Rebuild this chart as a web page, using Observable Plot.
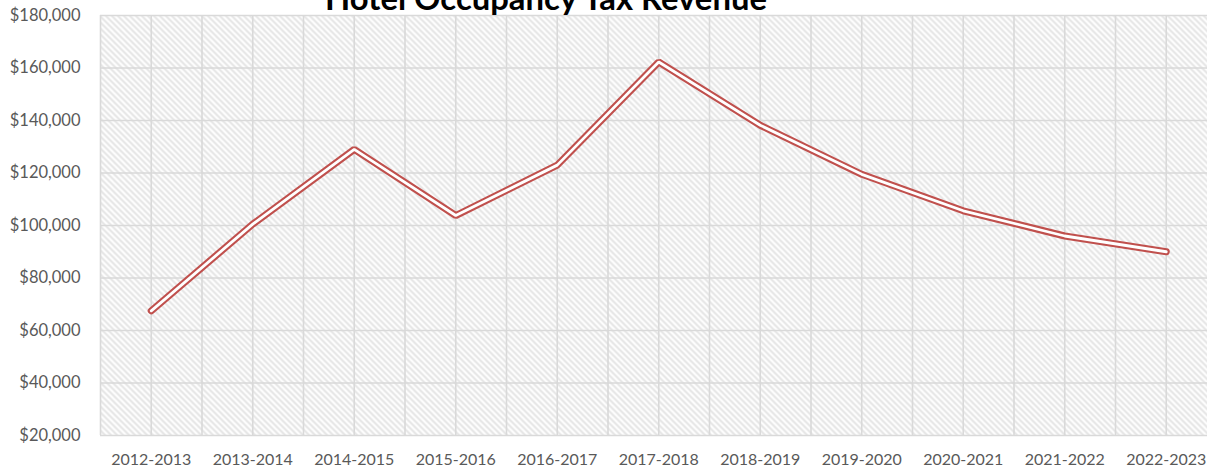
<!DOCTYPE html>
<html>
<head>
<meta charset="utf-8">
<script src="https://cdn.jsdelivr.net/npm/d3@7"></script>
<script src="https://cdn.jsdelivr.net/npm/@observablehq/plot@0.6"></script>
<style>
  html, body { margin: 0; padding: 0; background: white; overflow: hidden; }
  #chart { position: relative; width: 1207px; height: 467px; }
</style>
</head>
<body>
<div id="chart"></div>
<script>
const title = "Hotel Occupancy Tax Revenue";
const categories = ["2012-2013", "2013-2014", "2014-2015", "2015-2016", "2016-2017", "2017-2018",
                    "2018-2019", "2019-2020", "2020-2021", "2021-2022", "2022-2023"];
const revenue = [67500, 100500, 129000, 103800, 123000, 162300, 138200, 119500, 105600, 96000, 90000];
const yTicks = [20000, 40000, 60000, 80000, 100000, 120000, 140000, 160000, 180000];

const n = categories.length;
const data = categories.map((c, i) => ({i, c, v: revenue[i]}));
const catIdx = d3.range(n);
const halfTicks = d3.range(2 * n + 1).map(k => k / 2 - 0.5);

const gray = "#595959";
const gridColor = "#d9d9d9";
const red = "#c0504d";

const svg = Plot.plot({
  width: 1207,
  height: 467,
  marginLeft: 100,
  marginRight: 0,
  marginTop: 15,
  marginBottom: 32,
  style: {fontFamily: "Lato, 'Open Sans', sans-serif", background: "white", overflow: "visible"},
  x: {domain: [-0.5, n - 0.5], range: [100, 1216.5], label: null},
  y: {domain: [20000, 180000], label: null},
  marks: [
    Plot.frame({fill: "url(#hatch)", stroke: "none"}),
    Plot.gridX(halfTicks, {stroke: gridColor, strokeOpacity: 1, strokeWidth: 1.6}),
    Plot.gridY(yTicks, {stroke: gridColor, strokeOpacity: 1, strokeWidth: 1.6}),
    Plot.axisY(yTicks, {
      tickSize: 0, tickPadding: 20, label: null,
      tickFormat: d => "$" + d3.format(",")(d),
      fontSize: 16.5, fill: gray
    }),
    Plot.axisX(catIdx, {
      tickSize: 0, tickPadding: 18, label: null,
      tickFormat: i => categories[i],
      fontSize: 16, fill: gray
    }),
    Plot.line(data, {x: "i", y: "v", stroke: red, strokeWidth: 7, strokeLinecap: "round", strokeLinejoin: "miter"}),
    Plot.line(data, {x: "i", y: "v", stroke: "white", strokeWidth: 2.8, strokeLinecap: "round", strokeLinejoin: "miter"})
  ]
});

d3.select(svg).insert("defs", ":first-child").html(
  `<pattern id="hatch" patternUnits="userSpaceOnUse" width="6" height="6">
     <rect width="6" height="6" fill="white"/>
     <path d="M0,0L6,6M-1,5L1,7M5,-1L7,1" stroke="#e4e4e4" stroke-width="2" fill="none"/>
   </pattern>`
);

document.getElementById("chart").appendChild(svg);

const t = d3.select(svg).append("text")
  .attr("x", 546)
  .attr("y", 9.5)
  .attr("text-anchor", "middle")
  .attr("font-family", "Lato, 'Open Sans', sans-serif")
  .attr("font-weight", "bold")
  .attr("font-size", 30)
  .attr("fill", "black")
  .text(title);
const w = t.node().getComputedTextLength();
if (w > 0) t.attr("font-size", 30 * 442 / w);
</script>
</body>
</html>
